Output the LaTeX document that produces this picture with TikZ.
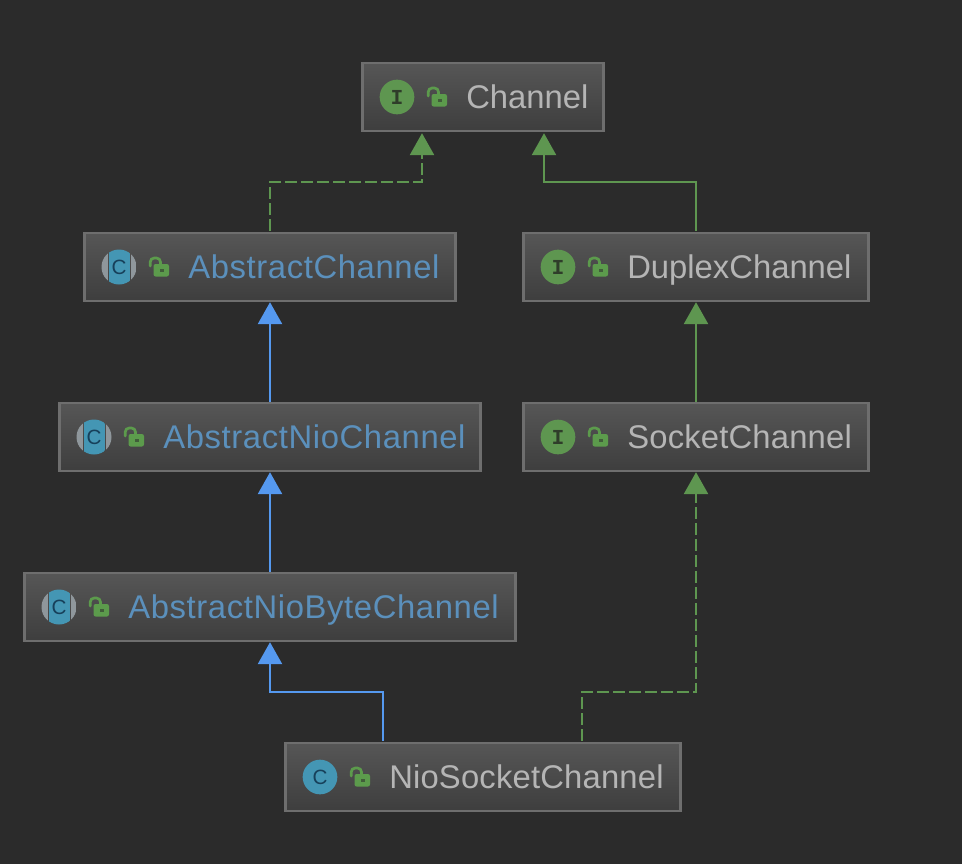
\documentclass[tikz,border=0pt]{standalone}
\usepackage{fontspec}
\setmainfont{Liberation Sans}
\newfontfamily\iconserif{Liberation Mono}
\usetikzlibrary{arrows.meta,calc}
\definecolor{bgc}{HTML}{2B2B2B}
\definecolor{boxtop}{HTML}{565656}
\definecolor{boxbot}{HTML}{3E3E3E}
\definecolor{boxline}{HTML}{6E6E6E}
\definecolor{igreen}{HTML}{5E9650}
\definecolor{lockgreen}{HTML}{5C9B4C}
\definecolor{ink}{HTML}{2F3D2A}
\definecolor{teal}{HTML}{4496B4}
\definecolor{tealink}{HTML}{17405A}
\definecolor{sidegray}{HTML}{8F979C}
\definecolor{plain}{HTML}{B5B5B5}
\definecolor{linkblue}{HTML}{5B90BC}
\definecolor{arrowgreen}{HTML}{5E9650}
\definecolor{arrowblue}{HTML}{5599F0}
\tikzset{
  x=0.75pt,y=-0.75pt,
  umlbox/.style={draw=boxline,line width=2pt,inner sep=0pt,minimum height=50.8pt,
    top color=boxtop,bottom color=boxbot,shading angle=0},
  title/.style={anchor=base west,inner sep=0pt},
  plaintitle/.style={title,text=plain,font=\fontsize{24.6}{28}\selectfont},
  widetitle/.style={title,text=plain,font=\fontsize{24.6}{28}\selectfont\addfontfeature{LetterSpace=0.55}},
  linktitle/.style={title,text=linkblue,font=\fontsize{24.6}{28}\selectfont\addfontfeature{LetterSpace=1.9}},
  iconi/.style={circle,fill=igreen,minimum size=26pt,inner sep=0pt,text=ink,font=\iconserif\bfseries\fontsize{16}{16}\selectfont},
  iconc/.style={circle,fill=teal,minimum size=26pt,inner sep=0pt,text=tealink,font=\fontsize{15.5}{15.5}\selectfont},
  greenlink/.style={draw=arrowgreen,line width=2pt,-{Triangle[length=16.5pt,width=18pt]}},
  bluelink/.style={draw=arrowblue,line width=2pt,-{Triangle[length=16.5pt,width=18pt]}},
  dashedlink/.style={dash pattern=on 9pt off 3pt},
}
% open padlock at given top-left corner
\newcommand{\lockat}[2]{%
  \fill[lockgreen,rounded corners=1.6pt] (#1+5.5,#2+8) rectangle (#1+21,#2+20.5);
  \fill[bgc!55!lockgreen] (#1+11.5,#2+13) rectangle (#1+15.5,#2+15.5);
  \draw[lockgreen,line width=2pt,line cap=round,rounded corners=3pt]
    (#1+2.2,#2+10) -- (#1+2.2,#2+2) -- (#1+12.5,#2+2) -- (#1+12.5,#2+8);
}
% abstract class icon: teal band between two grey lenses
\newcommand{\absicon}[3]{%
  \begin{scope}
    \clip (#2,#3) circle (17.5);
    \fill[sidegray] (#2-18,#3-18) rectangle (#2-11.5,#3+18);
    \fill[sidegray] (#2+11.5,#3-18) rectangle (#2+18,#3+18);
    \fill[teal] (#2-10.5,#3-18) rectangle (#2+10.5,#3+18);
  \end{scope}
  \node[circle,minimum size=26pt,inner sep=0pt,text=tealink,font=\fontsize{15.5}{15.5}\selectfont] (#1) at (#2,#3) {C};
}
\begin{document}
\begin{tikzpicture}
\useasboundingbox[fill=bgc] (0,0) rectangle (962,864);

% boxes
\node[umlbox,minimum width=181pt] (channel) at (483,97) {};
\node[umlbox,minimum width=278pt] (abs) at (270,267) {};
\node[umlbox,minimum width=259pt] (duplex) at (696,267) {};
\node[umlbox,minimum width=316pt] (absnio) at (270,437) {};
\node[umlbox,minimum width=259pt] (socket) at (696,437) {};
\node[umlbox,minimum width=368pt] (absbyte) at (270,607) {};
\node[umlbox,minimum width=296pt] (nio) at (483,777) {};

% connectors
\coordinate (chL) at ($(channel.south)+(-61,1)$);
\coordinate (chR) at ($(channel.south)+(61,1)$);
\coordinate (nioL) at ($(nio.north)+(-100,-1)$);
\coordinate (nioR) at ($(nio.north)+(99,-1)$);
\coordinate (absTop) at ($(abs.north)+(0,-1)$);
\coordinate (dupTop) at ($(duplex.north)+(0,-1)$);
\draw[greenlink,dashedlink] (absTop) -- (absTop |- 0,182) -- (chL |- 0,182) -- (chL);
\draw[greenlink] (dupTop) -- (dupTop |- 0,182) -- (chR |- 0,182) -- (chR);
\draw[bluelink] (absnio.north) -- (abs.south);
\draw[greenlink] (socket.north) -- (duplex.south);
\draw[bluelink] (absbyte.north) -- (absnio.south);
\draw[greenlink,dashedlink] (nioR) -- (nioR |- 0,692) -- (socket.south |- 0,692) -- (socket.south);
\draw[bluelink] (nioL) -- (nioL |- 0,692) -- (absbyte.south |- 0,692) -- (absbyte.south);

% icons, locks, titles
\node[iconi] (channelIcon) at (397,97) {I};
\lockat{426}{86}
\node[plaintitle] (channelText) at (466,108) {Channel};

\absicon{absIcon}{119}{267}
\lockat{148}{256}
\node[linktitle] (absText) at (188,278) {AbstractChannel};

\node[iconi] (duplexIcon) at (558,267) {I};
\lockat{587}{256}
\node[plaintitle] (duplexText) at (627,278) {DuplexChannel};

\absicon{absnioIcon}{94}{437}
\lockat{123}{426}
\node[linktitle] (absnioText) at (163,448) {AbstractNioChannel};

\node[iconi] (socketIcon) at (558,437) {I};
\lockat{587}{426}
\node[widetitle] (socketText) at (627,448) {SocketChannel};

\absicon{absbyteIcon}{59}{607}
\lockat{88}{596}
\node[linktitle] (absbyteText) at (128,618) {AbstractNioByteChannel};

\node[iconc] (nioIcon) at (320,777) {C};
\lockat{349}{766}
\node[widetitle] (nioText) at (389,788) {NioSocketChannel};
\end{tikzpicture}
\end{document}
